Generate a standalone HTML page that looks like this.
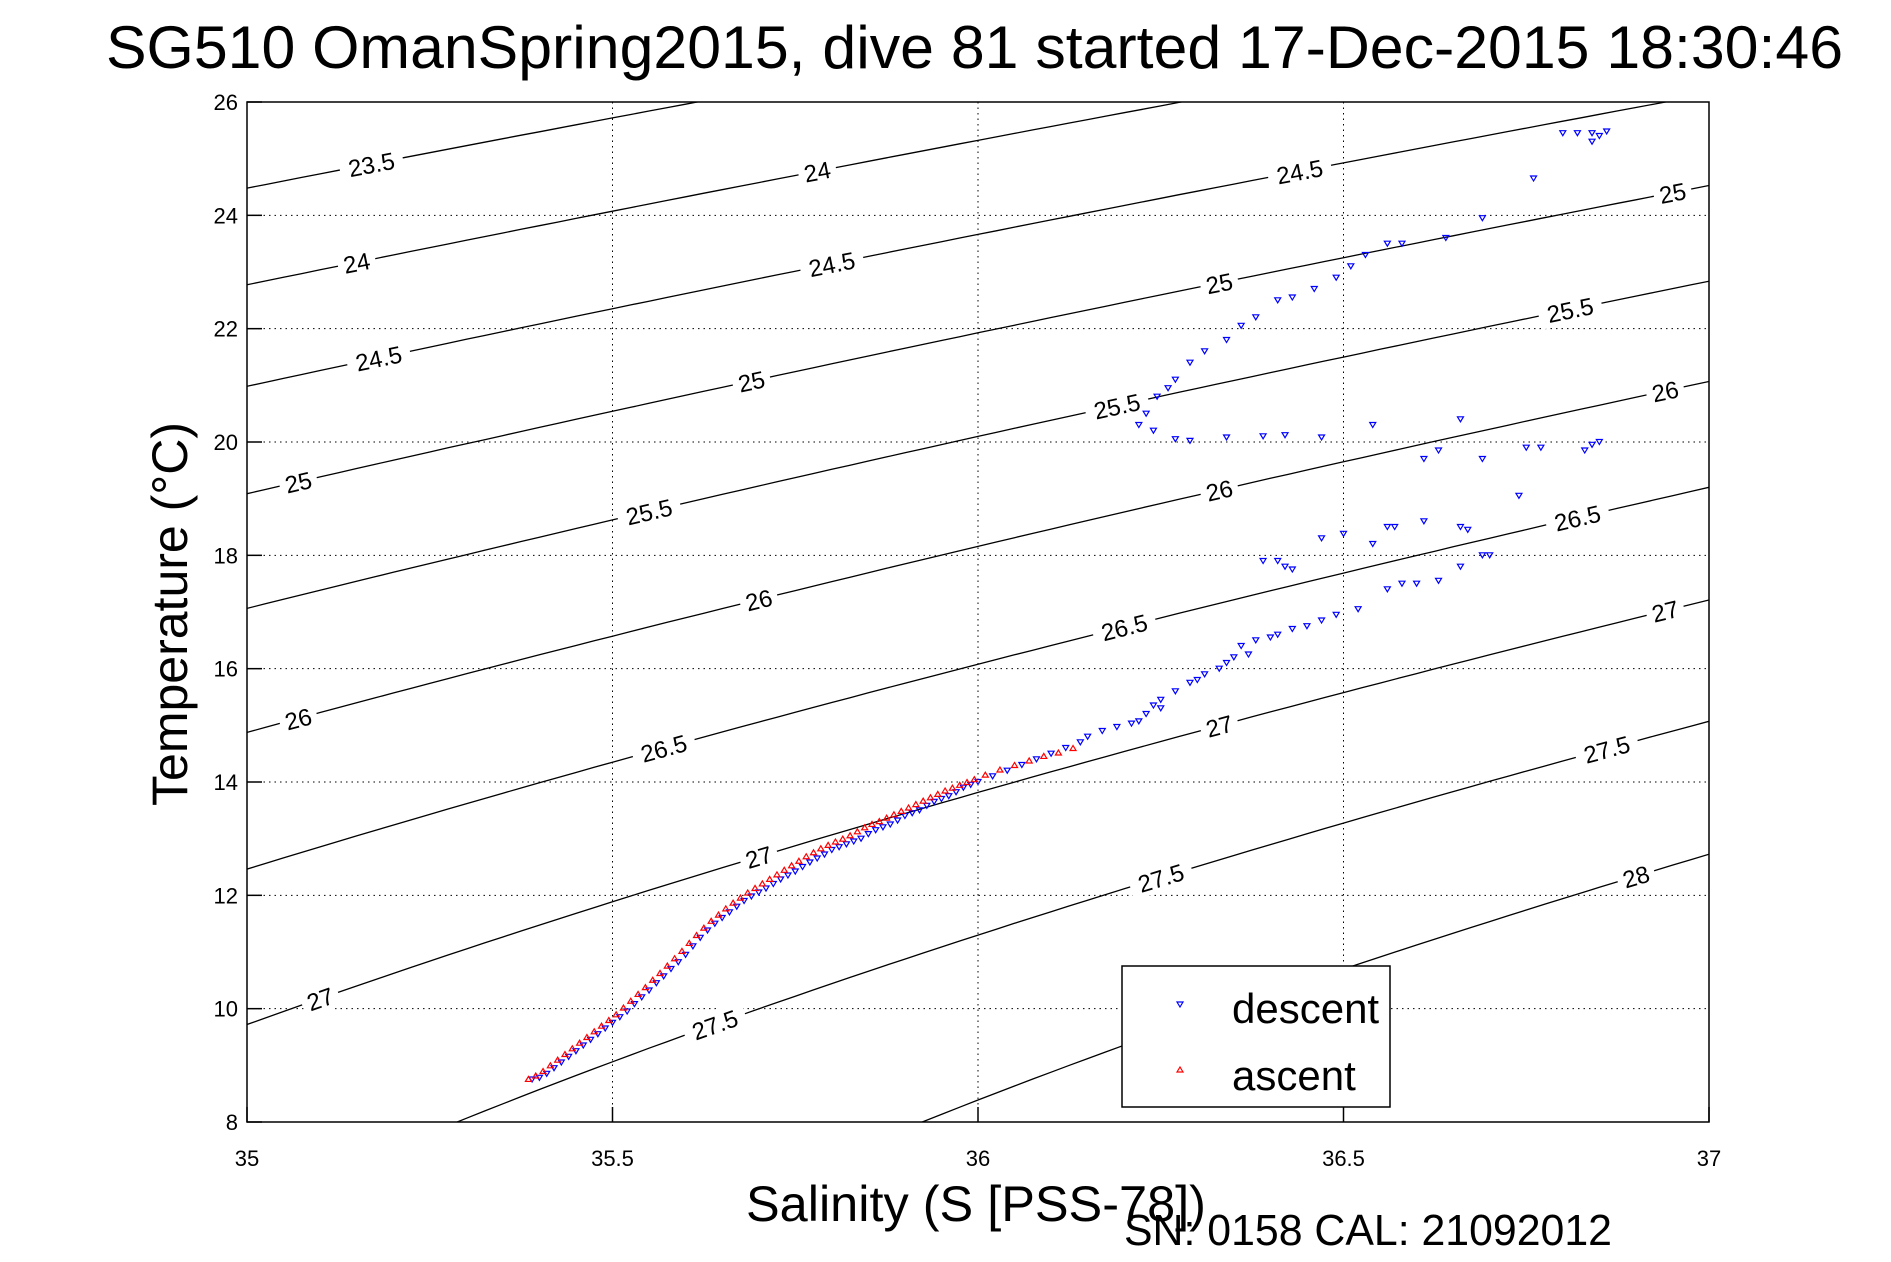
<!DOCTYPE html>
<html><head><meta charset="utf-8"><style>
html,body{margin:0;padding:0;background:#fff;overflow:hidden;width:1891px;height:1262px;}
svg{display:block;font-family:"Liberation Sans",sans-serif;}
</style></head><body>
<svg id="chart" width="1891" height="1262" viewBox="0 0 1891 1262">
<defs><clipPath id="pc"><rect x="247" y="102" width="1462" height="1020"/></clipPath></defs>
<rect x="0" y="0" width="1891" height="1262" fill="#fff"/>
<text x="106" y="68" font-size="60" textLength="1737" lengthAdjust="spacingAndGlyphs">SG510 OmanSpring2015, dive 81 started 17-Dec-2015 18:30:46</text>
<rect x="247" y="102" width="1462" height="1020" fill="#fff" stroke="none"/>
<g id="grid"></g>
<g id="contours" clip-path="url(#pc)"></g>
<g id="clabels"></g>
<g id="data" clip-path="url(#pc)"></g>
<rect x="247" y="102" width="1462" height="1020" fill="none" stroke="#000" stroke-width="1.5"/>
<g id="ticks"></g>
<text x="746" y="1221" font-size="50" textLength="460" lengthAdjust="spacingAndGlyphs">Salinity (S [PSS-78])</text>
<text x="0" y="0" font-size="50" text-anchor="middle" transform="translate(187,614) rotate(-90)">Temperature (°C)</text>
<text x="1124" y="1245" font-size="44" textLength="488" lengthAdjust="spacingAndGlyphs">SN: 0158  CAL: 21092012</text>
<g>
<rect x="1122" y="966" width="268" height="141" fill="#fff" stroke="#000" stroke-width="1.5"/>
<polygon points="1177,1002 1183,1002 1180,1007" fill="none" stroke="#00f" stroke-width="1.2"/>
<text x="1232" y="1023" font-size="42">descent</text>
<polygon points="1177,1072 1183,1072 1180,1067" fill="none" stroke="#f00" stroke-width="1.2"/>
<text x="1232" y="1090" font-size="42">ascent</text>
</g>
</svg>
<script>
const xTicks=[35,35.5,36,36.5,37];
const yTicks=[8,10,12,14,16,18,20,22,24,26];
const sigmaLevels=[23.5,24,24.5,25,25.5,26,26.5,27,27.5,28];
const labelSal=[[35.17],[35.15,35.78],[35.18,35.8,36.44],[35.07,35.69,36.33,36.95],[35.55,36.19,36.81],[35.07,35.7,36.33,36.94],[35.57,36.2,36.82],[35.1,35.7,36.33,36.94],[35.64,36.25,36.86],[36.9]];
const descentS=[35.39,35.40,35.41,35.42,35.43,35.44,35.45,35.46,35.47,35.48,35.49,35.50,35.51,35.52,35.53,35.54,35.55,35.56,35.57,35.58,35.59,35.60,35.61,35.62,35.63,35.64,35.65,35.66,35.67,35.68,35.69,35.70,35.71,35.72,35.73,35.74,35.75,35.76,35.77,35.78,35.79,35.80,35.81,35.82,35.83,35.84,35.85,35.86,35.87,35.88,35.89,35.90,35.91,35.92,35.93,35.94,35.95,35.96,35.97,35.98,35.99,36.00,36.02,36.04,36.06,36.08,36.10,36.12,36.14,36.15,36.17,36.19,36.21,36.22,36.23,36.24,36.25,36.25,36.27,36.29,36.30,36.31,36.33,36.34,36.35,36.36,36.37,36.38,36.40,36.41,36.43,36.45,36.47,36.49,36.52,36.56,36.58,36.60,36.63,36.66,36.69,36.66,36.61,36.57,36.54,36.50,36.47,36.56,36.67,36.70,36.41,36.39,36.42,36.43,36.74,36.69,36.61,36.63,36.66,36.75,36.77,36.83,36.85,36.84,36.54,36.47,36.42,36.39,36.34,36.29,36.27,36.24,36.22,36.23,36.245,36.26,36.27,36.29,36.31,36.34,36.36,36.38,36.41,36.43,36.46,36.49,36.51,36.53,36.56,36.58,36.64,36.69,36.76,36.80,36.82,36.84,36.86,36.84,36.85];
const descentT=[8.75,8.78,8.85,8.95,9.05,9.15,9.25,9.35,9.45,9.55,9.65,9.75,9.85,9.95,10.08,10.2,10.32,10.45,10.57,10.7,10.82,10.95,11.1,11.25,11.38,11.5,11.6,11.7,11.8,11.9,11.98,12.05,12.12,12.2,12.28,12.35,12.42,12.5,12.58,12.65,12.72,12.8,12.85,12.9,12.95,13.0,13.08,13.15,13.2,13.25,13.32,13.4,13.45,13.5,13.58,13.65,13.7,13.75,13.82,13.9,13.95,14.0,14.1,14.2,14.3,14.4,14.5,14.6,14.7,14.8,14.9,14.97,15.03,15.07,15.2,15.35,15.45,15.3,15.6,15.75,15.8,15.9,16.0,16.1,16.2,16.4,16.25,16.5,16.55,16.6,16.7,16.75,16.85,16.95,17.05,17.4,17.5,17.5,17.55,17.8,18.0,18.5,18.6,18.5,18.2,18.38,18.3,18.5,18.45,18.0,17.9,17.9,17.8,17.75,19.05,19.7,19.7,19.85,20.4,19.9,19.9,19.85,20.0,19.95,20.3,20.08,20.12,20.1,20.08,20.02,20.05,20.2,20.3,20.5,20.8,20.95,21.1,21.4,21.6,21.8,22.05,22.2,22.5,22.55,22.7,22.9,23.1,23.3,23.5,23.5,23.6,23.95,24.65,25.45,25.45,25.45,25.48,25.3,25.4];
const ascentS=[35.385,35.395,35.405,35.415,35.425,35.435,35.445,35.455,35.465,35.475,35.485,35.495,35.505,35.515,35.525,35.535,35.545,35.555,35.565,35.575,35.585,35.595,35.605,35.615,35.625,35.635,35.645,35.655,35.665,35.675,35.685,35.695,35.705,35.715,35.725,35.735,35.745,35.755,35.765,35.775,35.785,35.795,35.805,35.815,35.825,35.835,35.845,35.855,35.865,35.875,35.885,35.895,35.905,35.915,35.925,35.935,35.945,35.955,35.965,35.975,35.985,35.995,36.01,36.03,36.05,36.07,36.09,36.11,36.13];
const ascentT=[8.76,8.82,8.9,9.0,9.1,9.2,9.3,9.4,9.5,9.6,9.7,9.8,9.9,10.02,10.14,10.26,10.38,10.51,10.63,10.76,10.89,11.02,11.16,11.3,11.43,11.55,11.66,11.77,11.87,11.96,12.05,12.13,12.21,12.29,12.37,12.45,12.53,12.61,12.69,12.76,12.83,12.89,12.95,13.0,13.06,13.13,13.2,13.26,13.31,13.37,13.43,13.49,13.55,13.61,13.67,13.73,13.79,13.85,13.9,13.95,14.0,14.05,14.13,14.22,14.3,14.38,14.46,14.52,14.6];

const NS='http://www.w3.org/2000/svg';
const X0=247,X1=1709,Y0=102,Y1=1122;
function xs(s){return X0+(s-35)/2*(X1-X0);}
function yt(t){return Y1-(t-8)/18*(Y1-Y0);}
function mk(tag,attrs,parent){const e=document.createElementNS(NS,tag);for(const k in attrs)e.setAttribute(k,attrs[k]);parent.appendChild(e);return e;}
function sigma(S,T){
 const rw=999.842594+6.793952e-2*T-9.095290e-3*T*T+1.001685e-4*T**3-1.120083e-6*T**4+6.536332e-9*T**5;
 const r=rw+S*(0.824493-4.0899e-3*T+7.6438e-5*T*T-8.2467e-7*T**3+5.3875e-9*T**4)+Math.pow(S,1.5)*(-5.72466e-3+1.0227e-4*T-1.6546e-6*T*T)+4.8314e-4*S*S;
 return r-1000;}
function solveT(S,sg){let a=-2,b=40;for(let i=0;i<50;i++){const m=(a+b)/2;if(sigma(S,m)>sg)a=m;else b=m;}return (a+b)/2;}

const grid=document.getElementById('grid'),ticks=document.getElementById('ticks');
xTicks.forEach((v,i)=>{const x=xs(v);
 if(i>0&&i<xTicks.length-1){const l=mk('line',{x1:x,y1:Y0,x2:x,y2:Y1,stroke:'#000','stroke-width':1,'stroke-dasharray':'1.5,4'},grid);
 
 }
 const t=mk('line',{x1:x,y1:Y1,x2:x,y2:Y1-15,stroke:'#000','stroke-width':1.5},ticks);
 
 
 const lb=mk('text',{x:x,y:1166,'font-size':22,'text-anchor':'middle'},ticks);lb.textContent=String(v);
 
 });
yTicks.forEach((v,i)=>{const y=yt(v);
 if(i>0&&i<yTicks.length-1){const l=mk('line',{x1:X0,y1:y,x2:X1,y2:y,stroke:'#000','stroke-width':1,'stroke-dasharray':'1.5,4'},grid);
 
 }
 const t=mk('line',{x1:X0,y1:y,x2:X0+15,y2:y,stroke:'#000','stroke-width':1.5},ticks);
 
 
 const lb=mk('text',{x:238,y:y+8,'font-size':22,'text-anchor':'end'},ticks);lb.textContent=String(v);
 
 });

const cg=document.getElementById('contours'),lg=document.getElementById('clabels');
sigmaLevels.forEach((sg,k)=>{
 let d='';for(let i=0;i<=80;i++){const S=35+2*i/80;d+=(i?'L':'M')+xs(S).toFixed(1)+','+yt(solveT(S,sg)).toFixed(1);}
 const p=mk('path',{d:d,fill:'none',stroke:'#000','stroke-width':1.3},cg);
 
 
 labelSal[k].forEach(S=>{
  const x=xs(S),y=yt(solveT(S,sg));
  const ang=Math.atan2(yt(solveT(S+0.05,sg))-y,xs(S+0.05)-x)*180/Math.PI;
  const g=mk('g',{transform:`translate(${x.toFixed(1)},${y.toFixed(1)}) rotate(${ang.toFixed(2)})`},lg);
  
  
  const w=String(sg).length*13+12;
  mk('rect',{x:-w/2,y:-14,width:w,height:28,fill:'#fff'},g);
  const t=mk('text',{x:0,y:9,'font-size':24,'text-anchor':'middle'},g);t.textContent=String(sg);
 });
});

const dg=document.getElementById('data');
descentS.forEach((S,i)=>{const x=xs(S),y=yt(descentT[i]);
 const m=mk('polygon',{points:`${x-3},${y-2.5} ${x+3},${y-2.5} ${x},${y+2.5}`,fill:'none',stroke:'#00f','stroke-width':1.2},dg);
 
 });
ascentS.forEach((S,i)=>{const x=xs(S),y=yt(ascentT[i]);
 const m=mk('polygon',{points:`${x-3},${y+2.5} ${x+3},${y+2.5} ${x},${y-2.5}`,fill:'none',stroke:'#f00','stroke-width':1.2},dg);
 
 });
</script>
</body></html>
